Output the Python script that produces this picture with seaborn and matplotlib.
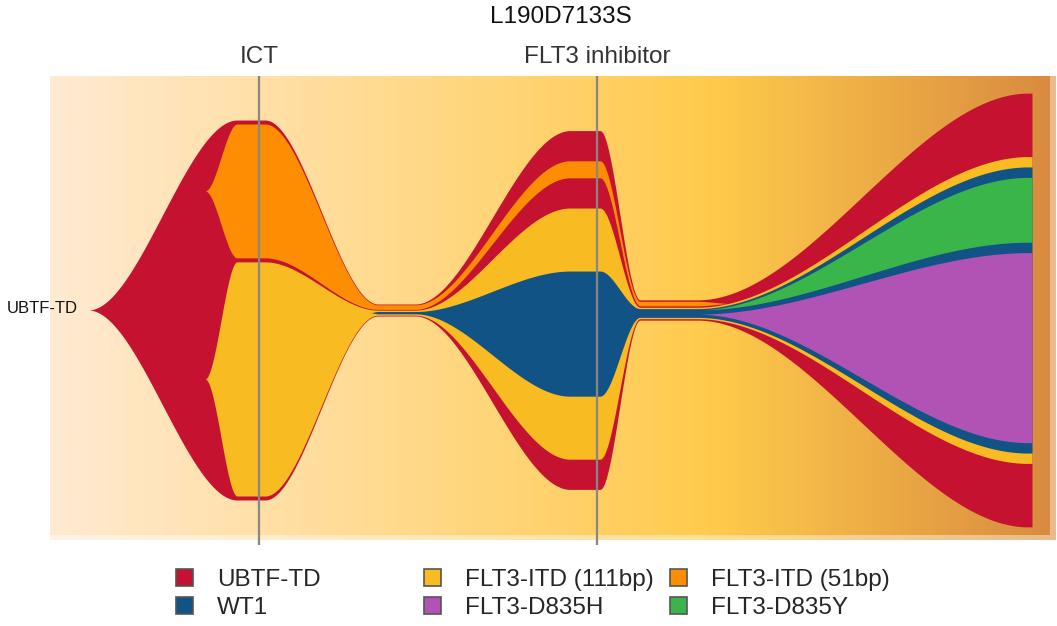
import numpy as np
import matplotlib
matplotlib.use("Agg")
import matplotlib.pyplot as plt
from matplotlib.colors import LinearSegmentedColormap
from matplotlib.patches import Patch
import seaborn as sns

# ---------------- data ----------------
sample_name = "L190D7133S"
clones = ["UBTF-TD", "WT1", "FLT3-ITD (111bp)", "FLT3-D835H", "FLT3-ITD (51bp)", "FLT3-D835Y"]
parents = [None, "FLT3-ITD (111bp)", "UBTF-TD", "WT1", "UBTF-TD", "WT1"]
timepoints = [259, 396, 597, 668, 1032]
frac_ubtf = [82.6, 2.6, 78.0, 4.4, 94.3]
frac_wt1 = [0.0, 0.5, 27.2, 1.9, 62.2]
frac_itd111 = [50.9, 1.1, 54.6, 2.5, 66.7]
frac_d835h = [0.0, 0.0, 0.0, 0.0, 41.3]
frac_itd51 = [29.1, 1.0, 3.7, 1.0, 0.0]
frac_d835y = [0.0, 0.0, 0.0, 0.0, 14.1]
emerge_at = [88, 370, 205, 697, 205, 697]
event_labels = ["ICT", "FLT3 inhibitor"]
event_times = [259, 597]
clone_colors = ["#C41230", "#125385", "#F8BB22", "#B153B5", "#FD8D02", "#3AB54A"]

fracs = {c: f for c, f in zip(clones, [frac_ubtf, frac_wt1, frac_itd111,
                                       frac_d835h, frac_itd51, frac_d835y])}
parent_of = dict(zip(clones, parents))
emerge = dict(zip(clones, emerge_at))
color_of = dict(zip(clones, clone_colors))

# ---------------- layout (rendering) ----------------
plateau = [(-22, 6), (-18, 19), (-27, 3), (-28, 29), (-4, 0)]
fade_len = 35
children = {c: [k for k in clones if parent_of[k] == c] for c in clones}


def layout_at(ti):
    pos = {}
    root = clones[0]
    f = fracs[root][ti]
    pos[root] = (-f / 2, f / 2)

    def place(p):
        b, t = pos[p]
        kids = children[p]
        nz = [k for k in kids if fracs[k][ti] > 0]
        gap = (fracs[p][ti] - sum(fracs[k][ti] for k in nz)) / (len(nz) + 1)
        cur = b + gap
        for k in kids:
            fk = fracs[k][ti]
            if fk > 0:
                pos[k] = (cur, cur + fk)
                cur += fk + gap
            else:
                y = cur - gap / 2
                pos[k] = (y, y)
            place(k)

    place(root)
    return pos


layouts = [layout_at(i) for i in range(len(timepoints))]


def smooth_eval(pts, x):
    xs = np.array([p[0] for p in pts], float)
    bs = np.array([p[1] for p in pts], float)
    ts = np.array([p[2] for p in pts], float)
    out_b = np.empty_like(x)
    out_t = np.empty_like(x)
    for j, xv in enumerate(x):
        i = np.searchsorted(xs, xv, side="right") - 1
        i = min(max(i, 0), len(xs) - 2)
        x0, x1 = xs[i], xs[i + 1]
        s = 0.0 if x1 == x0 else np.clip((xv - x0) / (x1 - x0), 0, 1)
        w = 3 * s ** 2 - 2 * s ** 3
        out_b[j] = bs[i] + w * (bs[i + 1] - bs[i])
        out_t[j] = ts[i] + w * (ts[i + 1] - ts[i])
    return out_b, out_t


order = []


def visit(c):
    order.append(c)
    for k in children[c]:
        visit(k)


visit(clones[0])

keypts = {}
for c in order:
    fr = fracs[c]
    first = next(i for i, v in enumerate(fr) if v > 0)
    nb, nt = layouts[first][c]
    center = (nb + nt) / 2
    xs0 = emerge[c]
    p = parent_of[c]
    if p is None:
        y0 = 0.0
    else:
        pb, pt = smooth_eval(keypts[p], np.array([float(xs0)]))
        pb, pt = pb[0], pt[0]
        if pb <= center <= pt:
            y0 = center
        else:
            Pb, Pt = layouts[first][p]
            y0 = pb + (center - Pb) / (Pt - Pb) * (pt - pb)
    pts = [(xs0, y0, y0)]
    for i in range(first, len(timepoints)):
        lo, hi = plateau[i]
        if fr[i] <= 0:
            b, t = layouts[i - 1][c]
            yc = (b + t) / 2
            pts.append((timepoints[i - 1] + plateau[i - 1][1] + fade_len, yc, yc))
            break
        b, t = layouts[i][c]
        pts.append((timepoints[i] + lo, b, t))
        pts.append((timepoints[i] + hi, b, t))
    keypts[c] = pts

# ---------------- figure ----------------
sns.set_theme(style="white")
plt.rcParams["font.family"] = ["Liberation Sans", "DejaVu Sans"]

W, H = 1057, 626
fig = plt.figure(figsize=(W / 100, H / 100), dpi=100)
px_per_unit = 4.6
center_px = 310
ax_top_px, ax_bot_px = 76, 540
ax = fig.add_axes([50 / W, 1 - ax_bot_px / H, 1000 / W, (ax_bot_px - ax_top_px) / H])
ylo = -(ax_bot_px - center_px) / px_per_unit
yhi = (center_px - ax_top_px) / px_per_unit
ax.set_xlim(50, 1050)
ax.set_ylim(ylo, yhi)
ax.axis("off")

# background gradient (bisque -> darkgoldenrod1 -> darkorange3)
bg = LinearSegmentedColormap.from_list(
    "bg", [(0.0, "#FFE4C4"), (0.67, "#FFB90F"), (1.0, "#CD6600")])
grad = np.linspace(0, 1, 500)[None, :]
ax.imshow(grad, cmap=bg, aspect="auto", extent=(50, 1056, ylo, yhi),
          alpha=0.45, zorder=0, clip_on=False, interpolation="bilinear")
ax.imshow(grad, cmap=bg, aspect="auto",
          extent=(50, 1050, ylo + 5 / px_per_unit, yhi),
          alpha=0.55, zorder=0.5, interpolation="bilinear")

# clones
for zi, c in enumerate(order):
    pts = keypts[c]
    xg = np.arange(pts[0][0], pts[-1][0] + 0.25, 0.25)
    b, t = smooth_eval(pts, xg)
    ax.fill_between(xg, b, t, color=color_of[c], lw=0, zorder=2 + zi)

# event lines and labels
ybottom_line = -(545 - center_px) / px_per_unit
for et, lab in zip(event_times, event_labels):
    ax.plot([et, et], [yhi, ybottom_line], color="#878787", lw=1.6,
            zorder=20, clip_on=False, solid_capstyle="butt")
    ax.text(et, (center_px - 57) / px_per_unit, lab, ha="center", va="center",
            fontsize=17.5, color="#333333", clip_on=False)

fig.text(561 / W, 1 - 17 / H, sample_name, ha="center", va="center",
         fontsize=17.5, color="#111111")
fig.text(78 / W, 1 - 309 / H, clones[0], ha="right", va="center",
         fontsize=12, color="#111111")

# legend: three columns, two rows
col_x = [176, 424, 670]
for ci in range(3):
    items = clones[2 * ci:2 * ci + 2]
    handles = [Patch(facecolor=color_of[k], edgecolor="#555555", linewidth=1.2)
               for k in items]
    fig.legend(handles, items, loc="upper left",
               bbox_to_anchor=(col_x[ci] / W, 1 - 569 / H),
               frameon=False, fontsize=17.5, handlelength=0.7, handleheight=0.7,
               handletextpad=1.0, labelspacing=0.23, borderpad=0,
               borderaxespad=0)

fig.savefig("out.png", dpi=100)
